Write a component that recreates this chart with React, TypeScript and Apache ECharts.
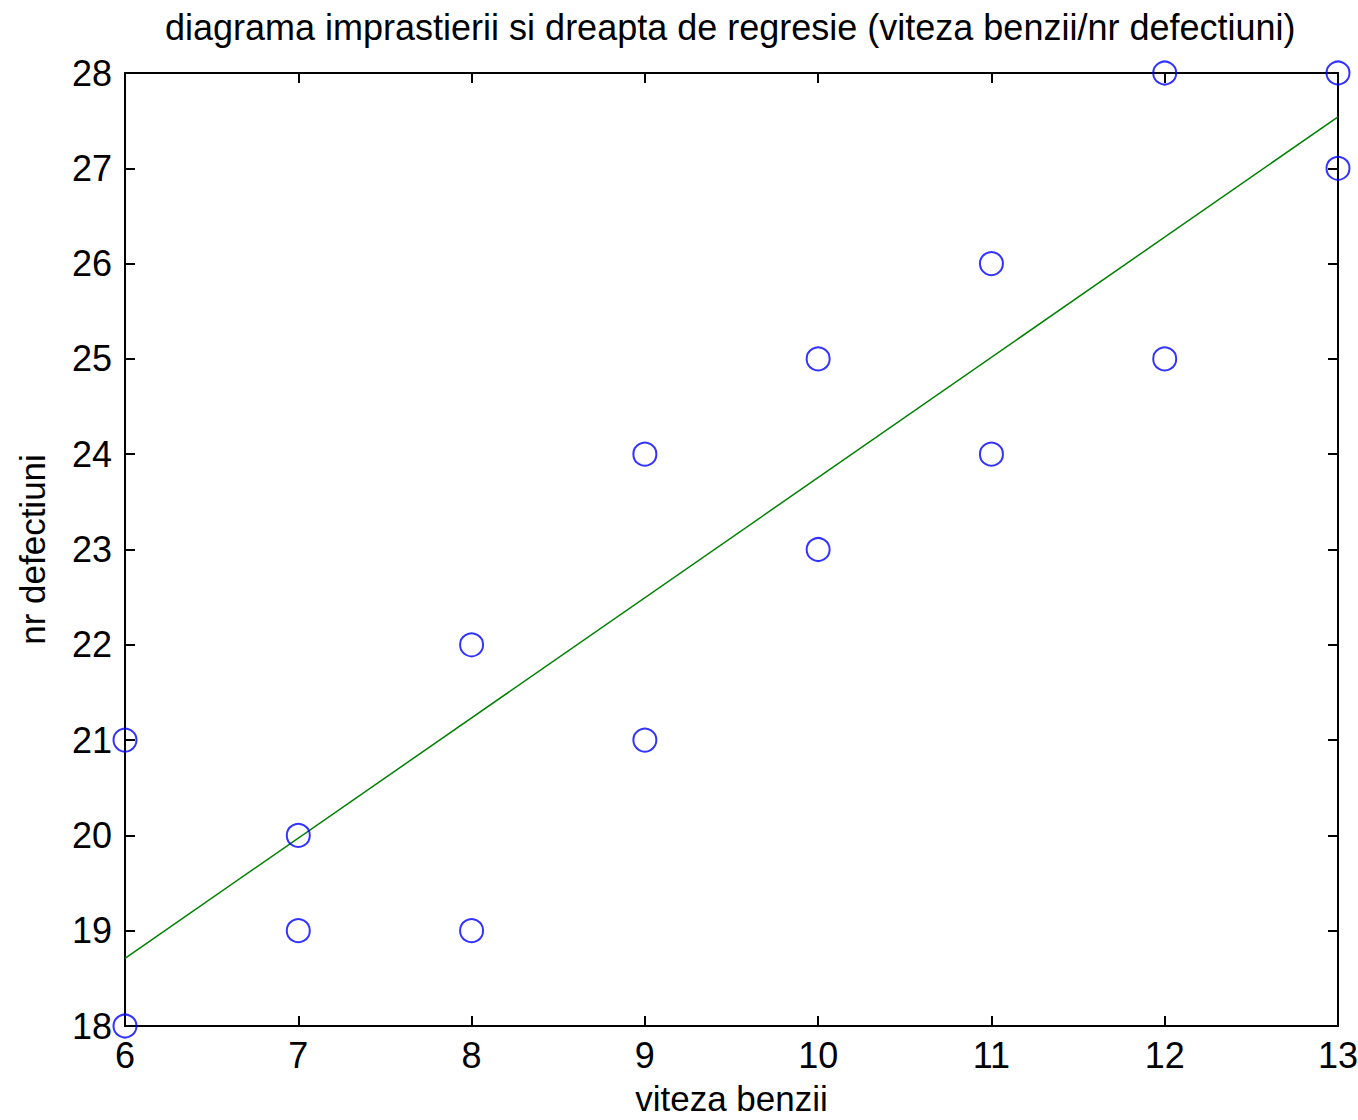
import React, { useEffect, useRef } from "react";
import * as echarts from "echarts";

const vitezaBenzii = [6, 6, 7, 7, 8, 8, 9, 9, 10, 10, 11, 11, 12, 12, 13, 13];
const nrDefectiuni = [18, 21, 19, 20, 19, 22, 21, 24, 23, 25, 24, 26, 25, 28, 27, 28];
const regressionX = [6, 13];
const regressionY = [18.71, 27.54];

const FONT = "'Liberation Sans', Arial, sans-serif";

export default function App() {
  const ref = useRef<HTMLDivElement>(null);
  useEffect(() => {
    if (!ref.current) return;
    const chart = echarts.init(ref.current, null, { renderer: "svg" });
    const axisCommon = {
      type: "value" as const,
      axisLine: { show: true, lineStyle: { color: "#000", width: 2 } },
      axisTick: { show: true, inside: true, length: 10, lineStyle: { color: "#000", width: 2 } },
      splitLine: { show: false },
    };
    chart.setOption({
      animation: false,
      backgroundColor: "#fff",
      title: {
        text: "diagrama imprastierii si dreapta de regresie (viteza benzii/nr defectiuni)",
        left: 160,
        top: 4,
        textStyle: { fontFamily: FONT, fontSize: 36, fontWeight: "normal", color: "#000" },
      },
      grid: {
        left: 125,
        right: 20,
        top: 73,
        bottom: 94,
        containLabel: false,
        outerBoundsMode: "none",
      },
      xAxis: [
        {
          ...axisCommon,
          position: "bottom",
          min: 6,
          max: 13,
          interval: 1,
          name: "viteza benzii",
          nameLocation: "middle",
          nameGap: 55,
          nameTextStyle: { fontFamily: FONT, fontSize: 35, color: "#000" },
          axisLabel: { fontFamily: FONT, fontSize: 36, color: "#000", margin: 11 },
        },
        {
          ...axisCommon,
          position: "top",
          min: 6,
          max: 13,
          interval: 1,
          axisLabel: { show: false },
        },
      ],
      yAxis: [
        {
          ...axisCommon,
          position: "left",
          min: 18,
          max: 28,
          interval: 1,
          name: "nr defectiuni",
          nameLocation: "middle",
          nameGap: 75,
          nameTextStyle: { fontFamily: FONT, fontSize: 35, color: "#000" },
          axisLabel: { fontFamily: FONT, fontSize: 36, color: "#000", margin: 13 },
        },
        {
          ...axisCommon,
          position: "right",
          min: 18,
          max: 28,
          interval: 1,
          axisLabel: { show: false },
        },
      ],
      series: [
        {
          type: "scatter",
          data: vitezaBenzii.map((x, i) => [x, nrDefectiuni[i]]),
          symbol: "circle",
          symbolSize: 23,
          itemStyle: { color: "transparent", borderColor: "#0000ff", borderWidth: 2 },
          z: 3,
        },
        {
          type: "line",
          data: regressionX.map((x, i) => [x, regressionY[i]]),
          showSymbol: false,
          symbol: "none",
          lineStyle: { color: "#008000", width: 1.5 },
          z: 2,
        },
      ],
    });
    return () => chart.dispose();
  }, []);
  return (
    <div
      ref={ref}
      style={{ position: "fixed", left: 0, top: 0, width: 1358, height: 1120, background: "#fff" }}
    />
  );
}
